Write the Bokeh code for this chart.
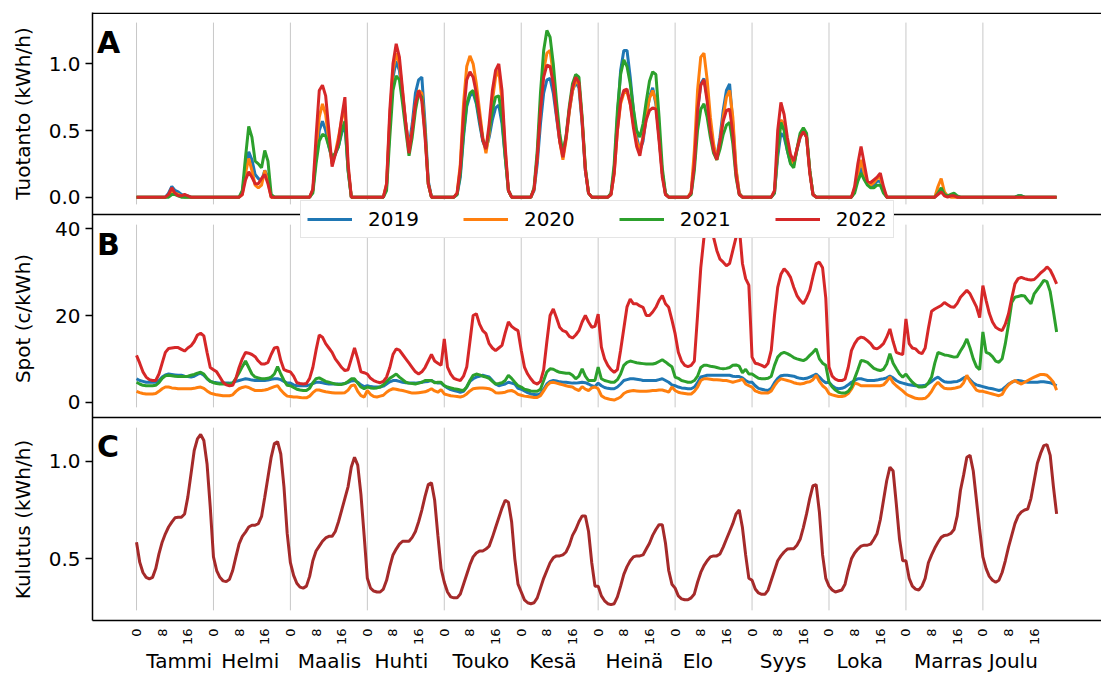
import math
from bokeh.plotting import figure
from bokeh.models import (Range1d, FixedTicker, Span, Label, LinearAxis,
                          Legend, LegendItem, CustomJSTickFormatter)
from bokeh.embed import file_html
from bokeh.resources import INLINE

# ---------------- data ----------------
months = ["Tammi", "Helmi", "Maalis", "Huhti", "Touko", "Kesä",
          "Heinä", "Elo", "Syys", "Loka", "Marras", "Joulu"]
month_label_pos = [13.3, 35.5, 60.2, 82.6, 107.4, 129.9, 155.3, 175.1, 201.7, 225.6, 253.2, 273.5]
hour_ticks = [0, 8, 16]
years = ["2019", "2020", "2021", "2022"]
panel_titles = ["Tuotanto (kWh/h)", "Spot (c/kWh)", "Kulutus (kWh/h)"]

prod_ticks = [0.0, 0.5, 1.0]
prod_tick_labels = ["0.0", "0.5", "1.0"]
spot_ticks = [0, 20, 40]
spot_tick_labels = ["0", "20", "40"]
cons_ticks = [0.5, 1.0]
cons_tick_labels = ["0.5", "1.0"]

# Tuotanto (kWh/h), one row of 24 hourly values per month
prod_2019 = [
    [0,0,0,0,0,0,0,0,0,0,.03,.08,.05,.04,.02,.01,.01,0,0,0,0,0,0,0],
    [0,0,0,0,0,0,0,0,0,.03,.22,.34,.28,.17,.14,.12,.20,.15,.01,0,0,0,0,0],
    [0,0,0,0,0,0,0,.05,.30,.50,.57,.50,.38,.28,.32,.38,.48,.55,.20,0,0,0,0,0],
    [0,0,0,0,0,0,.08,.55,.90,1.02,.95,.75,.55,.38,.55,.78,.88,.90,.55,.12,0,0,0,0],
    [0,0,0,0,.02,.15,.45,.68,.76,.78,.70,.55,.42,.36,.45,.58,.67,.69,.55,.30,.05,0,0,0],
    [0,0,0,0,.05,.25,.55,.78,.88,.89,.78,.60,.42,.32,.45,.65,.80,.86,.82,.55,.20,.03,0,0],
    [0,0,0,0,.02,.20,.60,.95,1.10,1.10,.90,.65,.45,.35,.42,.60,.75,.82,.70,.45,.18,.02,0,0],
    [0,0,0,0,0,.03,.25,.65,.85,.89,.75,.52,.37,.30,.45,.65,.80,.85,.55,.20,.03,0,0,0],
    [0,0,0,0,0,0,0,.03,.30,.48,.45,.35,.26,.25,.35,.45,.50,.45,.20,.02,0,0,0,0],
    [0,0,0,0,0,0,0,0,.05,.15,.22,.15,.10,.08,.09,.12,.12,.05,0,0,0,0,0,0],
    [0,0,0,0,0,0,0,0,0,0,.03,.05,.02,.01,.01,.01,0,0,0,0,0,0,0,0],
    [0,0,0,0,0,0,0,0,0,0,0,.01,.01,0,0,0,0,0,0,0,0,0,0,0],
]
prod_2020 = [
    [0,0,0,0,0,0,0,0,0,0,.01,.04,.03,.02,.01,0,0,0,0,0,0,0,0,0],
    [0,0,0,0,0,0,0,0,0,.02,.18,.29,.20,.09,.07,.09,.20,.12,0,0,0,0,0,0],
    [0,0,0,0,0,0,0,.05,.35,.60,.70,.62,.42,.25,.33,.45,.58,.68,.22,0,0,0,0,0],
    [0,0,0,0,0,0,.10,.60,.95,1.08,1.00,.78,.55,.36,.50,.70,.80,.78,.50,.10,0,0,0,0],
    [0,0,0,0,.03,.25,.70,.98,1.06,1.00,.85,.65,.45,.33,.48,.72,.90,.95,.72,.35,.05,0,0,0],
    [0,0,0,0,.06,.30,.68,.95,1.08,1.10,.92,.65,.42,.28,.43,.64,.80,.87,.85,.58,.22,.03,0,0],
    [0,0,0,0,.02,.18,.50,.70,.78,.79,.70,.55,.42,.35,.45,.62,.74,.80,.72,.45,.18,.02,0,0],
    [0,0,0,0,0,.04,.35,.80,1.05,1.08,.88,.60,.40,.28,.42,.60,.75,.80,.60,.22,.03,0,0,0],
    [0,0,0,0,0,0,0,.04,.35,.58,.55,.40,.28,.24,.36,.46,.50,.45,.20,.02,0,0,0,0],
    [0,0,0,0,0,0,0,0,.06,.18,.28,.18,.11,.09,.11,.14,.15,.06,0,0,0,0,0,0],
    [0,0,0,0,0,0,0,0,0,0,.08,.14,.04,.01,0,0,0,0,0,0,0,0,0,0],
    [0,0,0,0,0,0,0,0,0,0,0,0,0,0,0,0,0,0,0,0,0,0,0,0],
]
prod_2021 = [
    [0,0,0,0,0,0,0,0,0,0,0,.02,.02,.01,0,0,0,0,0,0,0,0,0,0],
    [0,0,0,0,0,0,0,0,0,.05,.30,.53,.45,.27,.25,.22,.35,.27,.02,0,0,0,0,0],
    [0,0,0,0,0,0,0,.03,.25,.42,.47,.46,.38,.30,.33,.38,.50,.57,.20,0,0,0,0,0],
    [0,0,0,0,0,0,.05,.45,.80,.91,.88,.70,.50,.31,.45,.65,.78,.75,.48,.10,0,0,0,0],
    [0,0,0,0,.02,.18,.48,.70,.78,.80,.72,.58,.43,.37,.50,.65,.75,.76,.60,.30,.05,0,0,0],
    [0,0,0,0,.07,.35,.78,1.10,1.25,1.20,1.00,.72,.48,.33,.46,.68,.85,.92,.90,.60,.22,.03,0,0],
    [0,0,0,0,.03,.25,.65,.92,1.03,.98,.85,.66,.50,.45,.55,.72,.87,.94,.92,.60,.22,.03,0,0],
    [0,0,0,0,0,.02,.20,.50,.66,.70,.60,.45,.33,.28,.36,.47,.54,.56,.40,.15,.02,0,0,0],
    [0,0,0,0,0,0,0,.03,.35,.56,.50,.35,.25,.22,.36,.48,.52,.48,.20,.02,0,0,0,0],
    [0,0,0,0,0,0,0,0,.03,.12,.18,.13,.09,.07,.07,.09,.09,.03,0,0,0,0,0,0],
    [0,0,0,0,0,0,0,0,0,0,.03,.07,.02,.01,.02,.03,.01,0,0,0,0,0,0,0],
    [0,0,0,0,0,0,0,0,0,0,0,.01,.01,0,0,0,0,0,0,0,0,0,0,0],
]
prod_2022 = [
    [0,0,0,0,0,0,0,0,0,0,.02,.07,.03,.01,.01,.02,.01,0,0,0,0,0,0,0],
    [0,0,0,0,0,0,0,0,0,.02,.13,.19,.15,.10,.10,.14,.17,.10,0,0,0,0,0,0],
    [0,0,0,0,0,0,0,.06,.45,.80,.84,.76,.50,.23,.32,.42,.60,.75,.25,0,0,0,0,0],
    [0,0,0,0,0,0,.10,.65,1.00,1.15,1.05,.80,.55,.33,.50,.70,.80,.72,.45,.10,0,0,0,0],
    [0,0,0,0,.03,.22,.62,.88,.94,.90,.78,.60,.43,.36,.55,.80,.95,1.00,.80,.38,.05,0,0,0],
    [0,0,0,0,.06,.30,.65,.90,.99,.98,.85,.62,.42,.30,.45,.66,.82,.90,.86,.57,.20,.03,0,0],
    [0,0,0,0,.02,.18,.50,.72,.80,.81,.70,.52,.38,.31,.45,.58,.65,.67,.66,.42,.15,.02,0,0],
    [0,0,0,0,0,.03,.25,.65,.84,.88,.72,.50,.35,.28,.42,.57,.65,.66,.48,.17,.02,0,0,0],
    [0,0,0,0,0,0,0,.05,.50,.71,.62,.45,.32,.27,.36,.45,.49,.45,.18,.02,0,0,0,0],
    [0,0,0,0,0,0,0,0,.08,.25,.38,.25,.12,.11,.13,.15,.18,.08,0,0,0,0,0,0],
    [0,0,0,0,0,0,0,0,0,0,.02,.04,.01,0,.01,.01,0,0,0,0,0,0,0,0],
    [0,0,0,0,0,0,0,0,0,0,0,0,0,0,0,0,0,0,0,0,0,0,0,0],
]

# Spot (c/kWh)
spot_2019 = [
    [5.4,5.0,4.8,4.6,4.6,4.6,4.6,5.0,5.8,6.3,6.5,6.4,6.3,6.2,6.2,6.0,5.9,5.8,6.0,6.4,6.7,6.2,5.4,4.8],
    [4.6,4.5,4.4,4.4,4.4,4.4,4.5,4.8,5.0,5.2,5.4,5.3,5.1,5.0,5.0,5.0,5.0,5.1,5.3,5.4,5.4,5.2,4.8,4.4],
    [4.4,4.0,3.8,3.8,3.8,3.8,4.0,4.3,4.6,4.6,4.5,4.3,4.2,4.2,4.2,4.2,4.2,4.3,4.6,4.9,5.0,4.6,4.0,3.6],
    [3.8,3.6,3.5,3.5,3.5,3.7,4.2,4.7,5.0,5.0,4.8,4.6,4.5,4.4,4.4,4.4,4.5,4.6,4.7,4.8,5.0,4.6,4.4,4.4],
    [3.8,3.3,2.9,2.7,2.5,2.3,2.5,3.5,4.8,5.4,5.8,6.0,6.2,6.0,5.8,5.0,4.2,3.8,4.0,4.2,4.6,4.4,4.2,3.2],
    [3.0,2.6,2.2,1.9,1.8,1.7,2.0,3.0,4.2,4.8,5.0,4.9,4.7,4.6,4.6,4.5,4.4,4.4,4.5,4.6,4.5,4.2,3.8,3.6],
    [4.4,3.8,3.4,3.2,3.1,3.1,3.5,4.2,5.0,5.2,5.4,5.4,5.3,5.2,5.0,5.0,5.0,5.0,5.0,5.2,5.4,5.0,4.6,4.0],
    [3.8,3.5,3.3,3.2,3.1,3.1,3.5,4.5,5.8,6.0,6.2,6.2,6.2,6.2,6.2,6.2,6.2,6.2,6.0,5.9,5.9,5.6,5.0,4.6],
    [4.6,3.8,3.2,3.0,2.8,2.7,3.2,4.5,5.5,6.1,6.2,6.2,6.1,6.0,5.7,5.5,5.4,5.5,5.8,6.1,6.5,5.8,5.0,4.5],
    [4.6,3.8,3.3,3.1,3.2,3.5,4.0,4.6,5.0,5.4,5.4,5.2,5.0,5.0,5.0,5.1,5.3,5.4,5.6,6.0,5.6,5.0,4.6,4.4],
    [4.2,4.0,3.9,3.8,3.8,3.8,3.9,4.3,4.8,5.4,5.8,5.2,4.7,4.6,4.6,4.7,4.8,5.1,5.6,5.9,5.2,4.4,4.0,3.8],
    [3.6,3.4,3.2,3.1,2.9,2.7,2.9,3.5,4.2,4.6,4.9,5.0,4.9,4.7,4.6,4.6,4.6,4.6,4.7,4.7,4.6,4.5,4.2,3.8],
]
spot_2020 = [
    [2.5,2.2,2.0,1.9,1.9,1.9,2.0,2.5,3.1,3.5,3.5,3.3,3.2,3.1,3.1,3.1,3.1,3.1,3.2,3.4,3.5,3.2,2.6,2.1],
    [1.9,1.7,1.6,1.5,1.5,1.5,1.7,2.5,3.1,3.4,3.6,3.4,3.0,2.7,2.7,2.7,2.8,3.0,3.3,3.6,3.8,2.8,2.0,1.4],
    [1.3,1.2,1.2,1.1,1.0,1.0,1.4,2.2,2.8,2.8,2.6,2.4,2.3,2.2,2.1,2.1,2.1,2.2,2.8,3.8,4.0,2.5,1.5,1.2],
    [2.7,1.8,1.3,1.2,1.4,1.6,2.3,2.8,3.1,3.0,2.8,2.7,2.5,2.3,2.1,2.1,2.2,2.3,2.4,2.7,3.1,2.6,2.3,2.9],
    [1.9,1.7,1.5,1.4,1.3,1.2,1.4,1.9,2.6,3.1,3.2,3.3,3.3,3.2,3.1,2.8,2.2,2.1,2.2,2.3,2.6,2.7,2.4,1.8],
    [1.6,1.4,1.3,1.2,1.1,1.1,1.5,2.6,3.8,4.5,4.6,4.4,4.2,4.0,3.8,3.6,3.5,3.0,2.7,3.6,3.0,2.7,3.3,3.5],
    [3.1,1.5,1.0,0.8,0.6,0.5,0.8,1.2,2.0,2.4,2.6,2.7,2.6,2.5,2.5,2.5,2.6,2.7,2.7,2.8,2.8,2.6,2.3,3.5],
    [2.7,2.3,2.1,2.0,1.9,1.9,2.5,3.5,5.0,5.4,5.4,5.3,5.2,5.2,5.1,5.0,5.0,4.8,4.6,4.8,5.0,5.3,4.2,3.8],
    [3.5,2.6,2.3,2.1,2.1,2.1,2.6,3.8,4.8,5.4,5.2,5.0,4.8,4.5,4.3,4.2,4.3,4.6,4.7,5.2,6.2,4.8,3.8,3.2],
    [2.0,1.7,1.5,1.3,1.3,1.5,2.0,3.0,4.4,4.2,3.8,3.8,3.8,3.8,3.8,3.8,3.8,4.0,4.8,5.8,4.5,3.8,3.2,2.6],
    [1.9,1.5,1.2,0.9,0.8,0.8,0.9,1.5,2.5,3.8,4.6,3.8,3.2,3.1,3.1,3.2,3.4,3.6,4.5,6.2,4.8,3.8,2.8,2.5],
    [2.5,2.3,2.1,1.9,1.7,1.5,1.8,3.1,4.0,4.6,5.0,4.5,4.2,4.6,5.0,5.4,5.8,6.1,6.4,6.4,6.2,5.5,4.6,2.8],
]
spot_2021 = [
    [4.6,4.2,3.9,3.8,3.8,3.8,3.9,4.5,5.5,6.1,6.2,6.1,6.0,5.9,5.9,5.9,6.0,6.2,6.4,6.7,6.9,6.5,5.5,4.8],
    [4.5,4.3,4.2,4.2,4.2,4.2,4.4,5.5,6.8,8.2,9.5,8.0,6.5,5.8,5.6,5.4,5.4,5.5,5.8,6.5,8.2,6.5,5.0,3.9],
    [3.8,3.4,3.0,2.8,2.7,2.7,3.2,4.5,5.4,5.6,5.2,4.8,4.6,4.4,4.2,4.1,4.1,4.3,4.8,5.4,5.4,4.4,3.5,3.1],
    [3.5,3.3,3.2,3.3,3.5,4.0,4.8,5.5,6.0,6.5,5.8,5.2,4.6,4.4,4.3,4.2,4.4,4.6,5.0,5.0,5.0,4.5,4.6,4.6],
    [3.8,3.5,3.3,3.1,3.0,2.8,2.7,3.5,5.0,6.2,6.5,6.3,6.0,5.8,5.5,4.8,4.2,4.3,4.5,5.0,6.2,5.5,4.6,3.8],
    [3.5,3.0,2.8,2.6,2.5,2.5,3.0,5.0,7.0,7.7,7.6,7.2,6.9,6.8,6.7,6.7,6.2,5.4,6.0,7.7,6.0,5.0,5.0,5.0],
    [8.1,5.4,5.0,4.8,4.6,4.6,5.2,6.5,8.5,9.2,9.5,9.3,9.1,9.0,8.9,8.8,8.8,8.8,9.0,9.4,9.8,9.3,8.7,8.2],
    [5.8,5.5,5.0,4.8,4.6,4.6,5.0,6.0,8.0,8.5,8.5,8.3,8.2,8.0,7.8,7.7,7.8,8.0,8.5,8.6,8.3,6.8,7.6,6.5],
    [6.5,6.0,5.5,5.4,5.4,5.5,6.0,8.5,10.4,11.2,11.5,11.2,10.8,10.3,10.0,9.8,9.6,10.0,10.8,11.5,12.3,10.0,9.0,8.5],
    [4.6,3.5,2.8,2.3,2.1,2.1,2.5,3.5,5.5,7.5,9.6,9.5,9.2,8.5,7.8,7.5,7.3,7.6,8.8,11.2,9.0,7.7,6.5,5.8],
    [6.5,5.5,4.6,4.0,3.5,3.5,3.6,4.5,5.8,9.0,11.5,11.2,10.9,10.8,10.6,10.4,10.5,11.8,13.0,14.6,12.5,10.0,8.2,7.5],
    [16.2,11.5,11.2,10.5,9.5,9.2,10.0,13.5,18.0,23.0,24.2,24.4,24.6,24.5,23.5,22.7,25.0,26.0,27.0,28.1,27.8,25.5,21.0,16.2],
]
spot_2022 = [
    [10.8,9.0,7.0,5.8,5.2,5.0,5.0,6.5,9.0,11.5,12.4,12.5,12.6,12.6,12.2,11.8,12.5,13.0,14.0,15.5,15.9,15.3,11.5,8.0],
    [7.5,7.0,5.8,4.6,4.0,3.8,3.9,5.5,8.0,10.0,11.5,11.3,11.0,10.5,9.5,8.8,8.8,9.2,11.0,12.5,12.7,9.6,7.5,7.2],
    [7.0,6.0,4.5,4.3,4.2,4.3,5.5,8.0,12.0,15.5,15.0,13.5,12.5,11.5,10.0,9.0,8.0,7.3,7.5,10.0,12.5,10.0,7.0,6.8],
    [6.5,5.5,5.0,4.7,4.5,4.8,5.8,8.0,11.0,12.3,12.0,11.0,10.0,9.0,8.0,7.0,6.5,7.0,8.0,9.5,11.0,9.5,9.0,8.5],
    [14.6,8.1,6.5,5.5,5.2,5.0,6.0,8.1,14.0,20.0,20.4,18.0,16.5,15.8,13.5,12.5,11.9,12.5,13.1,16.0,18.5,17.5,16.9,16.5],
    [12.0,8.1,6.5,5.4,4.5,4.2,4.8,7.5,14.0,20.0,21.5,19.5,17.3,16.5,16.2,15.2,14.8,15.5,16.5,18.5,20.0,18.5,17.3,17.5],
    [20.3,12.7,10.0,8.5,7.5,6.9,7.5,12.0,17.0,22.0,23.8,22.7,22.7,22.2,21.9,20.0,20.0,20.8,21.9,23.5,24.6,22.7,21.9,19.0],
    [15.8,11.5,9.5,8.5,8.2,8.5,9.5,20.0,31.0,38.0,42.0,41.0,38.0,35.0,33.0,32.3,31.5,32.0,35.0,38.0,40.5,32.0,28.5,27.0],
    [10.4,9.0,8.8,8.5,8.1,9.0,12.0,20.0,26.5,29.5,30.8,30.0,28.8,26.5,24.6,23.5,22.7,24.0,25.8,29.0,31.9,32.3,31.0,24.0],
    [8.1,6.0,5.3,5.0,5.0,5.3,8.0,11.9,13.5,14.6,15.0,14.8,14.2,13.5,12.5,12.3,12.8,13.5,15.0,16.9,14.0,11.5,11.2,11.0],
    [19.2,13.5,12.5,12.3,11.5,11.2,12.5,17.0,21.0,21.5,21.9,22.3,23.0,22.5,22.0,21.9,22.8,24.2,25.0,25.8,25.0,23.5,22.0,19.5],
    [26.9,23.5,20.5,18.5,17.3,16.8,16.5,18.0,20.4,24.0,27.3,28.5,28.8,28.5,28.3,28.2,28.3,29.0,29.8,30.4,31.2,30.5,29.0,27.3],
]

# Kulutus (kWh/h)
consumption = [
    [0.585,0.483,0.43,0.405,0.397,0.405,0.45,0.525,0.585,0.628,0.663,0.688,0.71,0.713,0.713,0.73,0.816,0.935,1.055,1.115,1.137,1.106,0.986,0.765],
    [0.51,0.44,0.405,0.387,0.383,0.395,0.44,0.51,0.577,0.615,0.637,0.663,0.672,0.672,0.68,0.717,0.816,0.918,1.02,1.09,1.10,1.037,0.867,0.63],
    [0.48,0.415,0.375,0.355,0.35,0.36,0.41,0.49,0.54,0.565,0.59,0.607,0.615,0.615,0.64,0.69,0.75,0.81,0.87,0.97,1.02,0.98,0.83,0.62],
    [0.40,0.35,0.335,0.33,0.33,0.345,0.39,0.46,0.52,0.55,0.575,0.59,0.59,0.59,0.61,0.64,0.69,0.75,0.82,0.88,0.89,0.80,0.62,0.45],
    [0.38,0.33,0.305,0.30,0.30,0.32,0.37,0.42,0.47,0.51,0.53,0.54,0.54,0.55,0.565,0.61,0.66,0.71,0.76,0.80,0.79,0.69,0.50,0.37],
    [0.33,0.29,0.275,0.27,0.275,0.30,0.35,0.40,0.44,0.48,0.505,0.515,0.515,0.52,0.535,0.57,0.62,0.65,0.69,0.72,0.72,0.64,0.48,0.36],
    [0.36,0.31,0.285,0.27,0.265,0.27,0.305,0.36,0.42,0.46,0.49,0.51,0.515,0.515,0.52,0.55,0.58,0.62,0.65,0.675,0.675,0.58,0.44,0.37],
    [0.35,0.31,0.295,0.29,0.29,0.30,0.32,0.38,0.43,0.465,0.49,0.51,0.515,0.515,0.525,0.56,0.60,0.64,0.68,0.73,0.75,0.66,0.52,0.40],
    [0.39,0.345,0.325,0.318,0.318,0.34,0.39,0.44,0.49,0.515,0.535,0.55,0.552,0.552,0.57,0.60,0.66,0.73,0.81,0.875,0.88,0.74,0.52,0.40],
    [0.36,0.34,0.33,0.335,0.34,0.37,0.44,0.50,0.53,0.55,0.565,0.57,0.57,0.575,0.60,0.63,0.70,0.80,0.90,0.97,0.95,0.78,0.60,0.49],
    [0.49,0.40,0.36,0.345,0.34,0.36,0.40,0.48,0.52,0.555,0.585,0.61,0.62,0.622,0.63,0.65,0.72,0.85,0.93,1.02,1.03,0.95,0.80,0.65],
    [0.51,0.45,0.41,0.39,0.38,0.39,0.43,0.49,0.56,0.62,0.68,0.72,0.74,0.75,0.755,0.81,0.90,0.99,1.04,1.08,1.085,1.03,0.87,0.73],
]

# ---------------- layout / style ----------------
COLORS = ["#1f77b4", "#ff7f0e", "#2ca02c", "#d62728"]
CONS_COLOR = "#a52a2a"
FONT = "DejaVu Sans"

W, H = 1101, 675
FRAME_LEFT, FRAME_RIGHT = 92, 1101      # canvas pixels
FRAME_TOP, FRAME_BOT = 12, 620
X_START, X_END = -13.73, 301.0
# panel: (top px, bottom px, value at bottom, value at top)
PANELS = {"A": (12, 214, -0.13, 1.385),
          "B": (214, 417, -3.53, 43.3),
          "C": (417, 620, 0.184, 1.224)}


def flat(rows):
    out = []
    for r in rows:
        assert len(r) == 24
        out.extend(r)
    return out


def val2px(panel, v):
    top, bot, lo, hi = PANELS[panel]
    return round(bot - (v - lo) * (bot - top) / (hi - lo), 3)


def full_range(panel):
    top, bot, lo, hi = PANELS[panel]
    k = (hi - lo) / (bot - top)
    return Range1d(start=lo - (FRAME_BOT - bot) * k, end=hi + (top - FRAME_TOP) * k)


def px2x(px):
    return X_START + (px - FRAME_LEFT) * (X_END - X_START) / (FRAME_RIGHT - FRAME_LEFT)


lookup_code = """
let best = 0, bd = Infinity;
for (let i = 0; i < pos.length; i++) { const d = Math.abs(pos[i] - tick); if (d < bd) { bd = d; best = i; } }
return lab[best];
"""

n_hours = 24 * len(months)
hours = list(range(n_hours))

p = figure(width=W, height=H, output_backend="svg", toolbar_location=None,
           x_range=Range1d(X_START, X_END), y_range=Range1d(FRAME_BOT, FRAME_TOP),
           min_border_left=FRAME_LEFT, min_border_right=W - FRAME_RIGHT,
           min_border_top=FRAME_TOP, min_border_bottom=H - FRAME_BOT,
           background_fill_color="white", border_fill_color="white")
p.outline_line_color = None
p.xgrid.visible = False
p.ygrid.visible = False
p.extra_y_ranges = {k: full_range(k) for k in PANELS}

# vertical month separators (5%..95% of every panel)
seg_x, seg_y0, seg_y1 = [], [], []
for k, (top, bot, lo, hi) in PANELS.items():
    h = bot - top
    for m in range(len(months)):
        seg_x.append(24 * m)
        seg_y0.append(top + 0.05 * h)
        seg_y1.append(bot - 0.05 * h)
p.segment(x0=seg_x, y0=seg_y0, x1=seg_x, y1=seg_y1, line_color="#c8c8c8", line_width=1)

prod = [prod_2019, prod_2020, prod_2021, prod_2022]
spot = [spot_2019, spot_2020, spot_2021, spot_2022]
legend_items = []
for yr, col, pr, sp in zip(years, COLORS, prod, spot):
    p.line(hours, flat(pr), y_range_name="A", line_color=col, line_width=3)
    r = p.line(hours, flat(sp), y_range_name="B", line_color=col, line_width=3)
    legend_items.append(LegendItem(label=yr, renderers=[r]))
p.line(hours, flat(consumption), y_range_name="C", line_color=CONS_COLOR, line_width=3)

# spines
for loc in (FRAME_TOP + 0.75, PANELS["A"][1], PANELS["B"][1]):
    p.add_layout(Span(location=loc, dimension="width", line_color="black", line_width=1.5))

# y axis (one axis, ticks placed per panel)
ytick_pos, ytick_lab = [], []
for k, ticks, labs in (("A", prod_ticks, prod_tick_labels),
                       ("B", spot_ticks, spot_tick_labels),
                       ("C", cons_ticks, cons_tick_labels)):
    for t, l in zip(ticks, labs):
        ytick_pos.append(val2px(k, t))
        ytick_lab.append(l)
yax = p.yaxis[0]
yax.ticker = FixedTicker(ticks=ytick_pos)
yax.formatter = CustomJSTickFormatter(args=dict(pos=ytick_pos, lab=ytick_lab), code=lookup_code)
yax.major_tick_in = 0
yax.major_tick_out = 7
yax.major_tick_line_width = 1.3
yax.major_label_standoff = 5
yax.minor_tick_line_color = None
yax.minor_tick_out = 0
yax.axis_line_width = 1.5
yax.major_label_text_font = FONT
yax.major_label_text_font_size = "20px"
yax.major_label_text_color = "black"

# panel titles as a second left axis (labels centred on each panel)
title_pos = [113, 318, 519]
tax = LinearAxis(ticker=FixedTicker(ticks=title_pos),
                 formatter=CustomJSTickFormatter(args=dict(pos=title_pos, lab=panel_titles),
                                                 code=lookup_code))
tax.major_label_orientation = "parallel"
tax.major_tick_in = 0
tax.major_tick_out = 0
tax.minor_tick_out = 0
tax.minor_tick_line_color = None
tax.axis_line_color = None
tax.major_label_standoff = 11
tax.major_label_text_font = FONT
tax.major_label_text_font_size = "20px"
tax.major_label_text_color = "black"
p.add_layout(tax, "left")

# x axis: hour ticks
xtick_pos = [24 * m + h for m in range(len(months)) for h in hour_ticks]
xtick_lab = [str(h) for m in range(len(months)) for h in hour_ticks]
xax = p.xaxis[0]
xax.ticker = FixedTicker(ticks=xtick_pos)
xax.formatter = CustomJSTickFormatter(args=dict(pos=xtick_pos, lab=xtick_lab), code=lookup_code)
xax.major_tick_in = 0
xax.major_tick_out = 0
xax.minor_tick_out = 0
xax.minor_tick_line_color = None
xax.axis_line_width = 1.5
xax.major_label_orientation = math.pi / 2
xax.major_label_standoff = 8
xax.major_label_text_font = FONT
xax.major_label_text_font_size = "13px"
xax.major_label_text_color = "black"

# month names as a second bottom axis
max_ = LinearAxis(ticker=FixedTicker(ticks=month_label_pos),
                  formatter=CustomJSTickFormatter(args=dict(pos=month_label_pos, lab=months),
                                                  code=lookup_code))
max_.major_tick_in = 0
max_.major_tick_out = 0
max_.minor_tick_out = 0
max_.minor_tick_line_color = None
max_.axis_line_color = None
max_.major_label_standoff = 0
max_.major_label_text_line_height = 0.8
max_.major_label_text_font = FONT
max_.major_label_text_font_size = "20px"
max_.major_label_text_color = "black"
p.add_layout(max_, "below")

# panel letters
for txt, base in (("A", 42), ("B", 244), ("C", 446)):
    p.add_layout(Label(x=px2x(96.5), y=base, text=txt, text_align="left",
                       text_baseline="alphabetic", text_font=FONT,
                       text_font_size="30px", text_font_style="bold", text_color="black"))

legend = Legend(items=legend_items, orientation="horizontal",
                location=(300 - FRAME_LEFT, FRAME_BOT - 238),
                label_text_font=FONT, label_text_font_size="20px", label_text_color="black",
                glyph_width=45, glyph_height=20, label_standoff=16, spacing=44,
                padding=6, margin=0, border_line_color="#cccccc", border_line_width=1,
                background_fill_color="white", background_fill_alpha=1.0)
p.add_layout(legend)

open("out.html", "w").write(file_html(p, INLINE))
